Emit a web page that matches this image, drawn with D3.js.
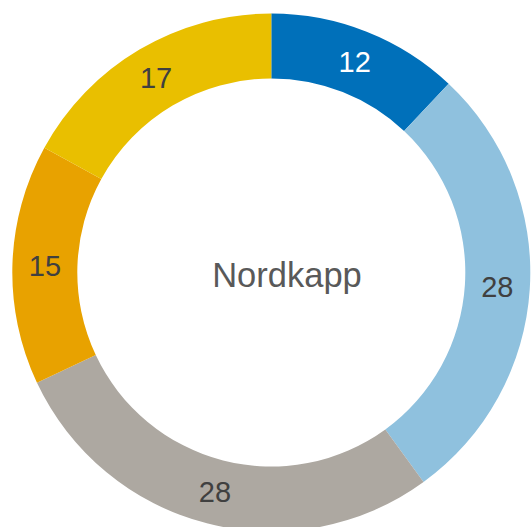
<!DOCTYPE html>
<html><head><meta charset="utf-8">
<script src="https://cdn.jsdelivr.net/npm/d3@7"></script>
<style>html,body{margin:0;padding:0;background:#fff;}svg{display:block;}</style>
</head><body>
<svg id="c" width="531" height="527"></svg>
<script>
const categories = ["A","B","C","D","E"];
const values = [12, 28, 28, 15, 17];
const colors = ["#0070BA", "#8FC1DE", "#ADA8A1", "#E8A200", "#E9BF00"];
const labelColors = ["#ffffff", "#404040", "#404040", "#404040", "#404040"];
const centerTitle = "Nordkapp";

const svg = d3.select("#c");
const cx = 271.3, cy = 272.5, rOuter = 259, rInner = 194;
const g = svg.append("g").attr("transform", `translate(${cx},${cy})`);
const pie = d3.pie().sort(null).value(d => d)(values);
const arc = d3.arc().innerRadius(rInner).outerRadius(rOuter);
g.selectAll("path").data(pie).join("path")
  .attr("d", arc).attr("fill", (d,i) => colors[i]);
g.selectAll("text.lbl").data(pie).join("text").attr("class","lbl")
  .attr("transform", d => `translate(${arc.centroid(d)})`)
  .attr("text-anchor","middle").attr("dy","0.36em")
  .attr("font-family","Liberation Sans, Arial, sans-serif").attr("font-size", 29)
  .attr("fill", (d,i) => labelColors[i])
  .text(d => d.data);
svg.append("text").attr("x", 287).attr("y", 287).attr("text-anchor","middle")
  .attr("font-family","Liberation Sans, Arial, sans-serif").attr("font-size", 34.5)
  .attr("fill","#595959").text(centerTitle);
</script>
</body></html>
